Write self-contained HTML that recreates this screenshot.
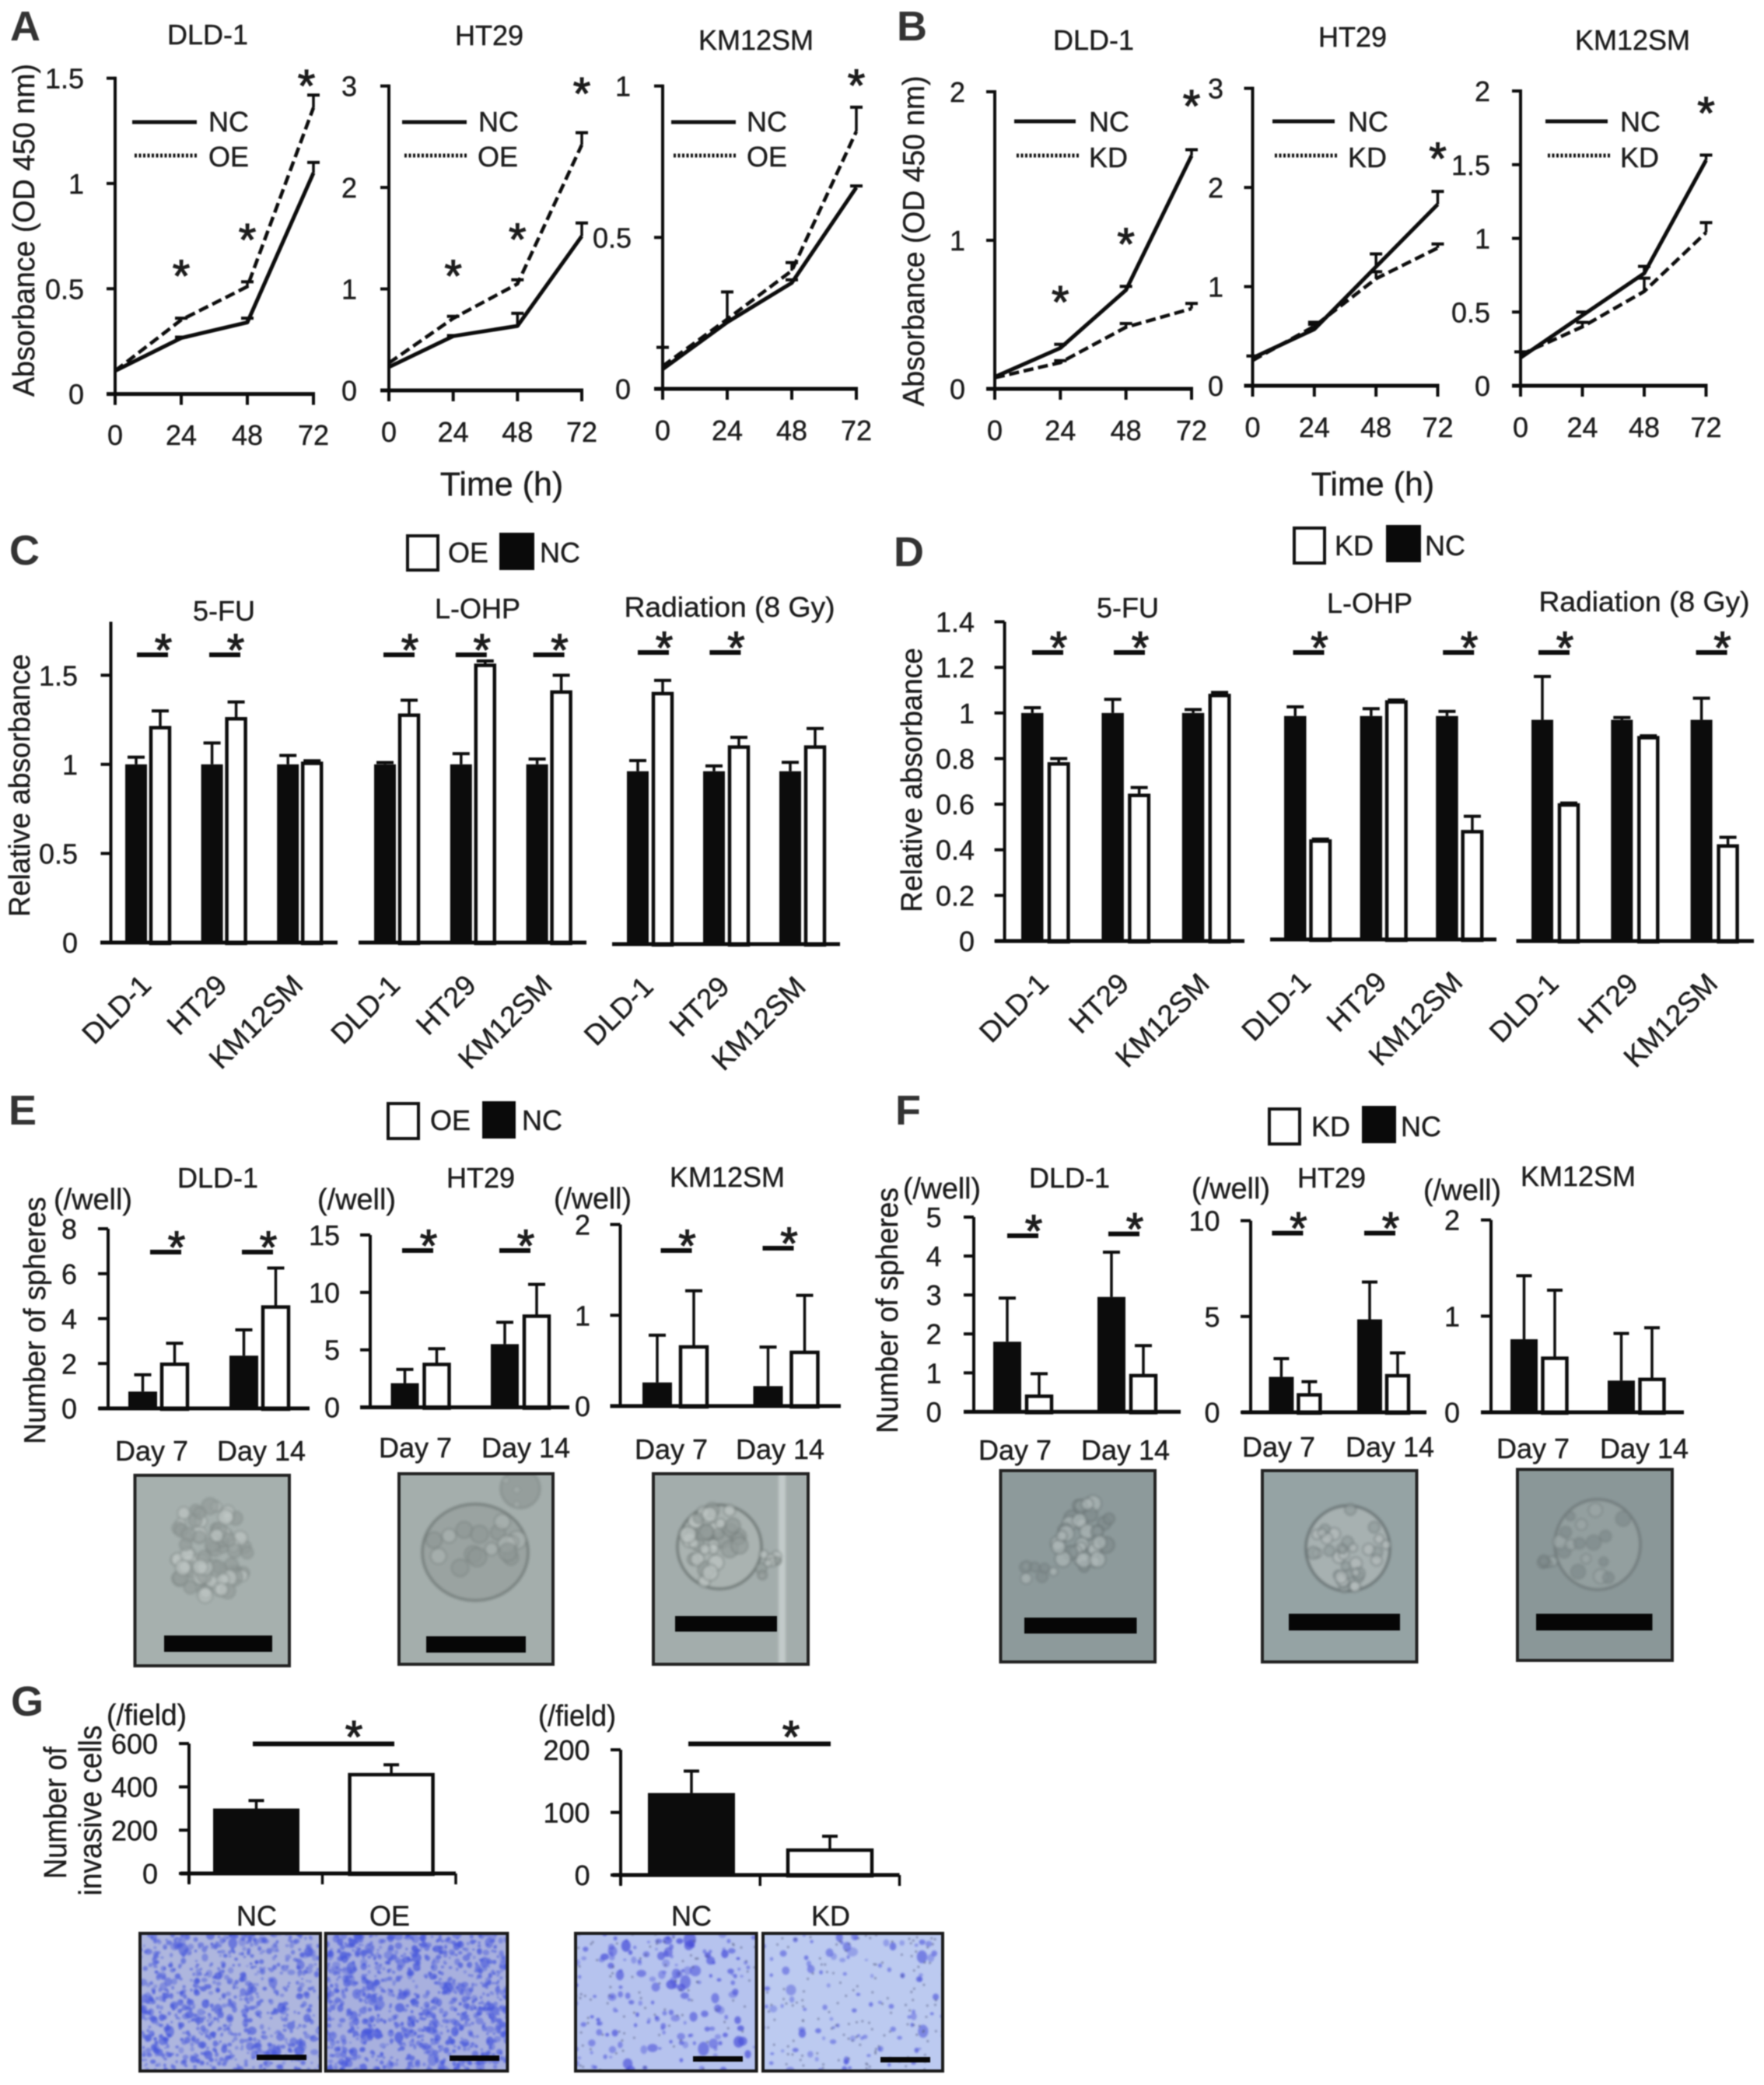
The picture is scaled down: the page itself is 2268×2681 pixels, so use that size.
<!DOCTYPE html>
<html lang="en">
<head>
<meta charset="utf-8">
<title>Cell proliferation, chemoresistance, sphere and invasion assays</title>
<style>
html,body{margin:0;padding:0;background:#fff;}
#figure{display:block;width:2268px;height:2681px;filter:blur(0.7px);}
text{font-family:"Liberation Sans",Arial,sans-serif;font-size:36px;fill:#1c1c1c;stroke:#1c1c1c;stroke-width:0.4px;}
.letter{font-size:54px;font-weight:bold;fill:#333;stroke:none;}
.mid{text-anchor:middle;}
</style>
</head>
<body>
<svg id="figure" xmlns="http://www.w3.org/2000/svg" width="2268" height="2681" viewBox="0 0 2268 2681">
<rect x="0" y="0" width="2268" height="2681" fill="#ffffff"/>

<!-- Panel letters -->
<text class="letter" x="13" y="52">A</text>
<text class="letter" x="1153" y="52">B</text>
<text class="letter" x="12" y="726">C</text>
<text class="letter" x="1149" y="728">D</text>
<text class="letter" x="11" y="1446">E</text>
<text class="letter" x="1151" y="1446">F</text>
<text class="letter" x="14" y="2206">G</text>

<!-- Panel A static text -->
<text class="mid" x="267" y="57">DLD-1</text>
<text class="mid" x="629" y="58">HT29</text>
<text class="mid" x="972" y="64">KM12SM</text>
<text class="mid" x="44" y="296" transform="rotate(-90 44 296)" textLength="428" lengthAdjust="spacingAndGlyphs" style="font-size:39px">Absorbance (OD 450 nm)</text>
<text class="mid" x="645" y="637" style="font-size:43px">Time (h)</text>

<!-- Panel A legends -->
<line x1="170" x2="253" y1="157" y2="157" stroke="#111" stroke-width="5"/>
<text x="268" y="169">NC</text>
<line x1="173" x2="253" y1="200" y2="200" stroke="#111" stroke-width="5" stroke-dasharray="3 2.5"/>
<text x="268" y="214">OE</text>
<line x1="517" x2="600" y1="157" y2="157" stroke="#111" stroke-width="5"/>
<text x="615" y="169">NC</text>
<line x1="520" x2="600" y1="200" y2="200" stroke="#111" stroke-width="5" stroke-dasharray="3 2.5"/>
<text x="614" y="214">OE</text>
<line x1="863" x2="946" y1="157" y2="157" stroke="#111" stroke-width="5"/>
<text x="960" y="169">NC</text>
<line x1="866" x2="946" y1="200" y2="200" stroke="#111" stroke-width="5" stroke-dasharray="3 2.5"/>
<text x="960" y="214">OE</text>

<!-- Panel B static text -->
<text class="mid" x="1406" y="64">DLD-1</text>
<text class="mid" x="1739" y="60">HT29</text>
<text class="mid" x="2099" y="64">KM12SM</text>
<text class="mid" x="1188" y="310" transform="rotate(-90 1188 310)" textLength="425" lengthAdjust="spacingAndGlyphs" style="font-size:39px">Absorbance (OD 450 nm)</text>
<text class="mid" x="1765" y="637" style="font-size:43px">Time (h)</text>

<!-- Panel B legends -->
<line x1="1304" x2="1383" y1="156" y2="156" stroke="#111" stroke-width="5"/>
<text x="1400" y="169">NC</text>
<line x1="1307" x2="1387" y1="200" y2="200" stroke="#111" stroke-width="5" stroke-dasharray="3 2.5"/>
<text x="1400" y="215">KD</text>
<line x1="1636" x2="1716" y1="156" y2="156" stroke="#111" stroke-width="5"/>
<text x="1733" y="169">NC</text>
<line x1="1639" x2="1719" y1="200" y2="200" stroke="#111" stroke-width="5" stroke-dasharray="3 2.5"/>
<text x="1733" y="215">KD</text>
<line x1="1987" x2="2067" y1="156" y2="156" stroke="#111" stroke-width="5"/>
<text x="2083" y="169">NC</text>
<line x1="1990" x2="2070" y1="200" y2="200" stroke="#111" stroke-width="5" stroke-dasharray="3 2.5"/>
<text x="2083" y="215">KD</text>

<!-- Panel C static -->
<rect x="524" y="689" width="39" height="44" fill="#fff" stroke="#111" stroke-width="4"/>
<text x="576" y="723">OE</text>
<rect x="642" y="685" width="45" height="48" fill="#0a0a0a"/>
<text x="694" y="723">NC</text>
<text class="mid" x="288" y="798">5-FU</text>
<text class="mid" x="614" y="795">L-OHP</text>
<text class="mid" x="938" y="793" textLength="271" lengthAdjust="spacingAndGlyphs">Radiation (8 Gy)</text>
<text class="mid" x="38" y="1010" transform="rotate(-90 38 1010)" textLength="338" lengthAdjust="spacingAndGlyphs" style="font-size:38px">Relative absorbance</text>

<!-- Panel D static -->
<rect x="1664" y="679" width="39" height="45" fill="#fff" stroke="#111" stroke-width="4"/>
<text x="1716" y="714">KD</text>
<rect x="1782" y="675" width="45" height="48" fill="#0a0a0a"/>
<text x="1832" y="714">NC</text>
<text class="mid" x="1450" y="794">5-FU</text>
<text class="mid" x="1761" y="788">L-OHP</text>
<text class="mid" x="2114" y="786" textLength="271" lengthAdjust="spacingAndGlyphs">Radiation (8 Gy)</text>
<text class="mid" x="1185" y="1003" transform="rotate(-90 1185 1003)" textLength="340" lengthAdjust="spacingAndGlyphs" style="font-size:38px">Relative absorbance</text>

<!-- Panel E static -->
<rect x="499" y="1419" width="39" height="45" fill="#fff" stroke="#111" stroke-width="4"/>
<text x="553" y="1453">OE</text>
<rect x="620" y="1416" width="43" height="48" fill="#0a0a0a"/>
<text x="671" y="1453">NC</text>
<text class="mid" x="280" y="1527">DLD-1</text>
<text class="mid" x="618" y="1527">HT29</text>
<text class="mid" x="935" y="1526">KM12SM</text>
<text class="mid" x="58" y="1698" transform="rotate(-90 58 1698)" textLength="318" lengthAdjust="spacingAndGlyphs" style="font-size:39px">Number of spheres</text>
<text x="69" y="1555" textLength="101" lengthAdjust="spacingAndGlyphs" style="font-size:38px">(/well)</text>
<text x="408" y="1555" textLength="101" lengthAdjust="spacingAndGlyphs" style="font-size:38px">(/well)</text>
<text x="712" y="1554" textLength="100" lengthAdjust="spacingAndGlyphs" style="font-size:38px">(/well)</text>
<text class="mid" x="195" y="1878">Day 7</text>
<text class="mid" x="336" y="1878">Day 14</text>
<text class="mid" x="534" y="1874">Day 7</text>
<text class="mid" x="676" y="1874">Day 14</text>
<text class="mid" x="863" y="1876">Day 7</text>
<text class="mid" x="1003" y="1876">Day 14</text>

<!-- Panel F static -->
<rect x="1632" y="1426" width="39" height="45" fill="#fff" stroke="#111" stroke-width="4"/>
<text x="1686" y="1461">KD</text>
<rect x="1751" y="1422" width="44" height="48" fill="#0a0a0a"/>
<text x="1801" y="1461">NC</text>
<text class="mid" x="1375" y="1527">DLD-1</text>
<text class="mid" x="1712" y="1527">HT29</text>
<text class="mid" x="2029" y="1525">KM12SM</text>
<text class="mid" x="1154" y="1685" transform="rotate(-90 1154 1685)" textLength="316" lengthAdjust="spacingAndGlyphs" style="font-size:39px">Number of spheres</text>
<text x="1161" y="1541" textLength="100" lengthAdjust="spacingAndGlyphs" style="font-size:38px">(/well)</text>
<text x="1532" y="1541" textLength="101" lengthAdjust="spacingAndGlyphs" style="font-size:38px">(/well)</text>
<text x="1830" y="1543" textLength="100" lengthAdjust="spacingAndGlyphs" style="font-size:38px">(/well)</text>
<text class="mid" x="1305" y="1877">Day 7</text>
<text class="mid" x="1447" y="1877">Day 14</text>
<text class="mid" x="1644" y="1873">Day 7</text>
<text class="mid" x="1787" y="1873">Day 14</text>
<text class="mid" x="1971" y="1875">Day 7</text>
<text class="mid" x="2114" y="1875">Day 14</text>

<!-- Panel G static -->
<text x="137" y="2218" textLength="103" lengthAdjust="spacingAndGlyphs" style="font-size:38px">(/field)</text>
<text x="692" y="2219" textLength="100" lengthAdjust="spacingAndGlyphs" style="font-size:38px">(/field)</text>
<text class="mid" x="85" y="2331" transform="rotate(-90 85 2331)" textLength="170" lengthAdjust="spacingAndGlyphs" style="font-size:41px">Number of</text>
<text class="mid" x="130" y="2328" transform="rotate(-90 130 2328)" textLength="219" lengthAdjust="spacingAndGlyphs" style="font-size:41px">invasive cells</text>
<text class="mid" x="330" y="2476">NC</text>
<text class="mid" x="501" y="2476">OE</text>
<text class="mid" x="889" y="2476">NC</text>
<text class="mid" x="1068" y="2476">KD</text>

<g id="marks"></g>
</svg>

<script>
// ---- Shared categories ----
const hours = [0, 24, 48, 72];
const cellLines = ['DLD-1', 'HT29', 'KM12SM'];

// ---- Panel A: growth curves, NC vs OE ----
const aDldTicks = ['0', '0.5', '1', '1.5'];
const aDldNc = [0.11, 0.266, 0.34, 1.05];
const aDldNcTop = [0.11, 0.27, 0.36, 1.10];
const aDldAlt = [0.11, 0.352, 0.51, 1.36];
const aDldAltTop = [0.11, 0.36, 0.533, 1.42];
const aHtTicks = ['0', '1', '2', '3'];
const aHtNc = [0.23, 0.535, 0.635, 1.52];
const aHtNcTop = [0.23, 0.54, 0.76, 1.65];
const aHtAlt = [0.27, 0.71, 1.05, 2.42];
const aHtAltTop = [0.27, 0.73, 1.09, 2.54];
const aKmTicks = ['0', '0.5', '1'];
const aKmNc = [0.065, 0.22, 0.35, 0.665];
const aKmNcTop = [0.065, 0.22, 0.36, 0.67];
const aKmAlt = [0.075, 0.23, 0.39, 0.85];
const aKmAltTop = [0.137, 0.32, 0.417, 0.93];

// ---- Panel B: growth curves, NC vs KD ----
const bDldTicks = ['0', '1', '2'];
const bDldNc = [0.08, 0.275, 0.665, 1.57];
const bDldNcTop = [0.08, 0.30, 0.69, 1.61];
const bDldAlt = [0.075, 0.177, 0.415, 0.54];
const bDldAltTop = [0.075, 0.19, 0.44, 0.575];
const bHtTicks = ['0', '1', '2', '3'];
const bHtNc = [0.28, 0.57, 1.2, 1.83];
const bHtNcTop = [0.28, 0.64, 1.33, 1.96];
const bHtAlt = [0.255, 0.60, 1.08, 1.39];
const bHtAltTop = [0.30, 0.62, 1.15, 1.43];
const bKmTicks = ['0', '0.5', '1', '1.5', '2'];
const bKmNc = [0.19, 0.477, 0.763, 1.53];
const bKmNcTop = [0.19, 0.50, 0.81, 1.565];
const bKmAlt = [0.21, 0.40, 0.64, 1.04];
const bKmAltTop = [0.23, 0.43, 0.73, 1.107];

// ---- Panel C: relative absorbance, NC vs OE ----
const cTicks = ['0', '0.5', '1', '1.5'];
const cFuNc = [1, 1, 1];
const cFuNcTop = [1.04, 1.12, 1.05];
const cFuAlt = [1.21, 1.26, 1.01];
const cFuAltTop = [1.30, 1.35, 1.02];
const cOxNc = [1, 1, 1];
const cOxNcTop = [1.01, 1.06, 1.03];
const cOxAlt = [1.28, 1.56, 1.41];
const cOxAltTop = [1.36, 1.58, 1.50];
const cRadNc = [0.97, 0.97, 0.97];
const cRadNcTop = [1.03, 1.00, 1.02];
const cRadAlt = [1.41, 1.11, 1.11];
const cRadAltTop = [1.48, 1.16, 1.21];

// ---- Panel D: relative absorbance, NC vs KD ----
const dTicks = ['0', '0.2', '0.4', '0.6', '0.8', '1', '1.2', '1.4'];
const dFuNc = [1, 1, 1];
const dFuNcTop = [1.023, 1.06, 1.015];
const dFuAlt = [0.78, 0.642, 1.08];
const dFuAltTop = [0.80, 0.673, 1.09];
const dOxNc = [0.98, 0.98, 0.98];
const dOxNcTop = [1.02, 1.012, 1.0];
const dOxAlt = [0.435, 1.045, 0.476];
const dOxAltTop = [0.44, 1.05, 0.54];
const dRadNc = [0.97, 0.97, 0.97];
const dRadNcTop = [1.16, 0.98, 1.065];
const dRadAlt = [0.60, 0.895, 0.42];
const dRadAltTop = [0.605, 0.90, 0.455];

// ---- Panel E: spheres, NC vs OE (day 7, day 14) ----
const eDldTicks = ['0', '2', '4', '6', '8'];
const eDldNc = [0.75, 2.35];
const eDldNcTop = [1.5, 3.5];
const eDldAlt = [2.0, 4.55];
const eDldAltTop = [2.9, 6.25];
const eHtTicks = ['0', '5', '10', '15'];
const eHtNc = [2.1, 5.5];
const eHtNcTop = [3.3, 7.4];
const eHtAlt = [3.8, 8.0];
const eHtAltTop = [5.1, 10.7];
const eKmTicks = ['0', '1', '2'];
const eKmNc = [0.26, 0.22];
const eKmNcTop = [0.78, 0.65];
const eKmAlt = [0.66, 0.60];
const eKmAltTop = [1.27, 1.22];

// ---- Panel F: spheres, NC vs KD (day 7, day 14) ----
const fDldTicks = ['0', '1', '2', '3', '4', '5'];
const fDldNc = [1.8, 2.95];
const fDldNcTop = [2.92, 4.1];
const fDldAlt = [0.42, 0.95];
const fDldAltTop = [0.98, 1.7];
const fHtTicks = ['0', '5', '10'];
const fHtNc = [1.85, 4.85];
const fHtNcTop = [2.8, 6.8];
const fHtAlt = [0.95, 1.95];
const fHtAltTop = [1.6, 3.1];
const fKmTicks = ['0', '1', '2'];
const fKmNc = [0.76, 0.33];
const fKmNcTop = [1.42, 0.82];
const fKmAlt = [0.57, 0.35];
const fKmAltTop = [1.27, 0.88];

// ---- Panel G: invasive cells ----
const gLeftTicks = ['0', '200', '400', '600'];
const gLeftNc = [300];
const gLeftNcTop = [337];
const gLeftAlt = [460];
const gLeftAltTop = [502];
const gRightTicks = ['0', '100', '200'];
const gRightNc = [131];
const gRightNcTop = [166];
const gRightAlt = [41];
const gRightAltTop = [62];

const root = document.getElementById('marks');
const NS = 'http://www.w3.org/2000/svg';
const INK = '#0c0c0c';

function shape(tag, attrs, parent) {
  const node = document.createElementNS(NS, tag);
  for (const k in attrs) node.setAttribute(k, attrs[k]);
  parent.appendChild(node);
  return node;
}

function label(str, x, y, anchor, parent) {
  const node = shape('text', {x: x, y: y, 'text-anchor': anchor}, parent);
  node.textContent = str;
  return node;
}

function star(x, cy, parent) {
  const node = shape('text', {x: x, y: cy + 30, 'text-anchor': 'middle', style: 'font-size:58px;stroke-width:1.2px'}, parent);
  node.textContent = '*';
  
  
}

function yTickLabels(c, g, sy) {
  c.ticks.forEach(function (t) {
    const v = parseFloat(t);
    const tick = shape('line', {x1: c.axisX - c.tickLen, x2: c.axisX, y1: sy(v), y2: sy(v), stroke: INK, 'stroke-width': 4}, g);
    
    
    const right = (c.intRight && t.indexOf('.') < 0) ? c.intRight : c.tickRight;
    const txt = label(t, right, sy(v) + 13, 'end', g);
    
    
  });
}

function errorBar(x, yFrom, yTo, cap, g) {
  const stem = shape('line', {x1: x, x2: x, y1: yFrom, y2: yTo, stroke: INK, 'stroke-width': 3.5}, g);
  
  
  const capLine = shape('line', {x1: x - cap, x2: x + cap, y1: yTo, y2: yTo, stroke: INK, 'stroke-width': 4}, g);
  
  
}

function drawLineChart(c) {
  const g = shape('g', {}, root);
  
  
  const last = hours[hours.length - 1];
  const sx = function (h) { return c.x0 + (h / last) * (c.x1 - c.x0); };
  const sy = function (v) { return c.y0 - (v / c.max) * (c.y0 - c.yTop); };
  c.axisX = c.x0;
  c.tickLen = 11;

  const yAxis = shape('line', {x1: c.x0, x2: c.x0, y1: c.yTop - 2, y2: c.y0 + 14, stroke: INK, 'stroke-width': 4}, g);
  
  
  const xAxis = shape('line', {x1: c.x0 - 11, x2: c.x1 + 2, y1: c.y0, y2: c.y0, stroke: INK, 'stroke-width': 5}, g);
  
  
  yTickLabels(c, g, sy);

  hours.forEach(function (h) {
    const tick = shape('line', {x1: sx(h), x2: sx(h), y1: c.y0, y2: c.y0 + 14, stroke: INK, 'stroke-width': 4}, g);
    
    
    const txt = label(String(h), sx(h), c.labelY, 'middle', g);
    
    
  });

  hours.forEach(function (h, i) {
    if (c.ncTop[i] > c.nc[i]) errorBar(sx(h), sy(c.nc[i]), sy(c.ncTop[i]), 8, g);
    if (c.altTop[i] > c.alt[i]) errorBar(sx(h), sy(c.alt[i]), sy(c.altTop[i]), 8, g);
  });

  const ncPts = hours.map(function (h, i) { return sx(h) + ',' + sy(c.nc[i]); }).join(' ');
  const ncLine = shape('polyline', {points: ncPts, fill: 'none', stroke: INK, 'stroke-width': 5, 'stroke-linejoin': 'round'}, g);
  
  
  const altPts = hours.map(function (h, i) { return sx(h) + ',' + sy(c.alt[i]); }).join(' ');
  const altLine = shape('polyline', {points: altPts, fill: 'none', stroke: INK, 'stroke-width': 4.5, 'stroke-dasharray': '13 6'}, g);
  
  

  c.stars.forEach(function (s) {
    const idx = s[0];
    const top = Math.max(c.ncTop[idx], c.altTop[idx]);
    star(sx(hours[idx]) + (s[2] || 0), sy(top) - s[1], g);
  });
}

function drawBarChart(c) {
  const g = shape('g', {}, root);
  
  
  const sy = function (v) { return c.y0 - (v / c.max) * (c.y0 - c.yTop); };

  c.nc.forEach(function (v, i) {
    const left = c.groupLeft + i * c.groupStep;
    const blackMid = left + c.barW / 2;
    const whiteMid = left + c.gap + c.barW / 2;
    errorBar(blackMid, sy(v), sy(c.ncTop[i]), c.cap, g);
    errorBar(whiteMid, sy(c.alt[i]), sy(c.altTop[i]), c.cap, g);
    const black = shape('rect', {x: left, y: sy(v), width: c.barW, height: c.y0 - sy(v), fill: INK}, g);
    
    
    const white = shape('rect', {x: left + c.gap + 2, y: sy(c.alt[i]) + 1, width: c.barW - 4, height: c.y0 - sy(c.alt[i]), fill: '#fff', stroke: INK, 'stroke-width': 4.5}, g);
    
    
    if (c.rotated) {
      const groupMid = left + (c.gap + c.barW) / 2;
      const ax = groupMid + 6;
      const ay = c.y0 + 57;
      const txt = shape('text', {x: ax, y: ay, 'text-anchor': 'end', style: 'font-size:37px', transform: 'rotate(-45 ' + ax + ' ' + ay + ')'}, g);
      txt.textContent = c.rotated[i];
      
      
    }
  });

  const xAxis = shape('line', {x1: c.axisLeft, x2: c.axisRight, y1: c.y0, y2: c.y0, stroke: INK, 'stroke-width': 5}, g);
  
  

  if (c.ticks) {
    c.tickLen = 13;
    const yAxis = shape('line', {x1: c.axisX, x2: c.axisX, y1: c.yTop, y2: c.y0 + (c.axisBelow || 0), stroke: INK, 'stroke-width': 4}, g);
    
    
    yTickLabels(c, g, sy);
  }
  if (c.bottomTicks) {
    [0, 0.5, 1].forEach(function (f) {
      const x = c.axisX + f * (c.axisRight - c.axisX);
      const tick = shape('line', {x1: x, x2: x, y1: c.y0, y2: c.y0 + 14, stroke: INK, 'stroke-width': 3.5}, g);
      
      
    });
  }
  (c.sig || []).forEach(function (s) {
    const left = c.groupLeft + s[0] * c.groupStep + s[1];
    const w = s[3] || 40;
    const bar = shape('line', {x1: left, x2: left + w, y1: s[2], y2: s[2], stroke: INK, 'stroke-width': 6}, g);
    
    
    star(left + w - (s[4] || 6), s[2] - (s[5] || 16), g);
  });
}

// ---- Microscopy image placeholders (illustrative texture, not chart data) ----
let seed = 12345;
function rnd() {
  seed = (seed * 1664525 + 1013904223) % 4294967296;
  return seed / 4294967296;
}
let clipCount = 0;

function frame(name, x, y, w, h, bg, edge) {
  clipCount += 1;
  const id = 'micro-clip-' + clipCount;
  const clip = shape('clipPath', {id: id}, root);
  shape('rect', {x: x, y: y, width: w, height: h}, clip);
  const g = shape('g', {'clip-path': 'url(#' + id + ')'}, root);
  
  
  const base = shape('rect', {x: x, y: y, width: w, height: h, fill: bg}, g);
  
  
  const border = shape('rect', {x: x, y: y, width: w, height: h, fill: 'none', stroke: edge, 'stroke-width': 4}, root);
  
  
  return g;
}

function spheroid(g, cx, cy, rx, ry, count, r, fill, ringColor, body, lightCell, darkCell) {
  if (body) {
    const outer = shape('ellipse', {cx: cx, cy: cy, rx: rx, ry: ry, fill: fill, stroke: ringColor, 'stroke-width': 3}, g);
    
    
  }
  for (let i = 0; i < count; i++) {
    const a = rnd() * Math.PI * 2;
    const d = Math.sqrt(rnd()) * 0.92;
    const px = cx + Math.cos(a) * d * rx;
    const py = cy + Math.sin(a) * d * ry;
    const rr = r * (0.7 + rnd() * 0.5);
    const cell = shape('circle', {cx: px, cy: py, r: rr, fill: rnd() > 0.5 ? lightCell : darkCell, stroke: ringColor, 'stroke-width': 1.4, opacity: 0.7}, g);
    
    
  }
}

function scaleBar(x, y, w, h, parent) {
  const bar = shape('rect', {x: x, y: y, width: w, height: h, fill: '#060606'}, parent);
  
  
}

function stained(name, x, y, w, h, bg, count, minR, maxR, color, specks, barX, barY) {
  const g = frame(name, x, y, w, h, bg, '#1a1a1a');
  g.style.filter = 'blur(1px)';
  for (let i = 0; i < count; i++) {
    const r = minR + rnd() * rnd() * (maxR - minR);
    const cell = shape('ellipse', {cx: x + rnd() * w, cy: y + rnd() * h, rx: r, ry: r * (0.7 + rnd() * 0.6), fill: color, opacity: 0.35 + rnd() * 0.4}, g);
    
    
  }
  for (let i = 0; i < specks; i++) {
    const dot = shape('circle', {cx: x + rnd() * w, cy: y + rnd() * h, r: 1.3, fill: '#50567a', opacity: 0.7}, g);
    
    
  }
  scaleBar(barX, barY, 64, 7, root);
}

// ---- Draw: Panel A ----
drawLineChart({name: 'chart-a-dld1', altName: 'line-oe', x0: 148, x1: 403, y0: 506.6, yTop: 100.6, max: 1.5, ticks: aDldTicks, tickRight: 108, labelY: 572, nc: aDldNc, ncTop: aDldNcTop, alt: aDldAlt, altTop: aDldAltTop, stars: [[1, 64], [2, 64], [3, 22, -9]]});
drawLineChart({name: 'chart-a-ht29', altName: 'line-oe', x0: 500, x1: 748, y0: 502, yTop: 110.6, max: 3, ticks: aHtTicks, tickRight: 459, labelY: 568, nc: aHtNc, ncTop: aHtNcTop, alt: aHtAlt, altTop: aHtAltTop, stars: [[1, 62], [2, 62], [3, 60]]});
drawLineChart({name: 'chart-a-km12sm', altName: 'line-oe', x0: 852, x1: 1101, y0: 500, yTop: 110.6, max: 1, ticks: aKmTicks, tickRight: 812, intRight: 811, labelY: 566, nc: aKmNc, ncTop: aKmNcTop, alt: aKmAlt, altTop: aKmAltTop, stars: [[3, 38]]});

// ---- Draw: Panel B ----
drawLineChart({name: 'chart-b-dld1', altName: 'line-kd', x0: 1279, x1: 1532, y0: 500, yTop: 118, max: 2, ticks: bDldTicks, tickRight: 1241, labelY: 566, nc: bDldNc, ncTop: bDldNcTop, alt: bDldAlt, altTop: bDldAltTop, stars: [[1, 64], [2, 64], [3, 66]]});
drawLineChart({name: 'chart-b-ht29', altName: 'line-kd', x0: 1610.5, x1: 1848.5, y0: 496, yTop: 113.6, max: 3, ticks: bHtTicks, tickRight: 1573, labelY: 562, nc: bHtNc, ncTop: bHtNcTop, alt: bHtAlt, altTop: bHtAltTop, stars: [[3, 52]]});
drawLineChart({name: 'chart-b-km12sm', altName: 'line-kd', x0: 1955, x1: 2193.5, y0: 496, yTop: 117, max: 2, ticks: bKmTicks, tickRight: 1916, labelY: 562, nc: bKmNc, ncTop: bKmNcTop, alt: bKmAlt, altTop: bKmAltTop, stars: [[3, 64]]});

// ---- Draw: Panel C ----
drawBarChart({name: 'chart-c-5fu', altBar: 'bar-oe', axisLeft: 129, axisRight: 434, axisX: 142.5, y0: 1212, yTop: 799.5, max: 1.8, ticks: cTicks, tickRight: 100, groupLeft: 161, groupStep: 97.6, barW: 28, gap: 31, cap: 11, nc: cFuNc, ncTop: cFuNcTop, alt: cFuAlt, altTop: cFuAltTop, rotated: cellLines, sig: [[0, 15, 842], [1, 10.4, 842]]});
drawBarChart({name: 'chart-c-lohp', altBar: 'bar-oe', axisLeft: 461, axisRight: 754, y0: 1212, yTop: 799.5, max: 1.8, groupLeft: 481, groupStep: 97.8, barW: 28, gap: 31, cap: 11, nc: cOxNc, ncTop: cOxNcTop, alt: cOxAlt, altTop: cOxAltTop, rotated: cellLines, sig: [[0, 12, 842], [1, 7, 842], [2, 9, 842]]});
drawBarChart({name: 'chart-c-radiation', altBar: 'bar-oe', axisLeft: 787, axisRight: 1080, y0: 1214, yTop: 801.5, max: 1.8, groupLeft: 806, groupStep: 98, barW: 28, gap: 32, cap: 11, nc: cRadNc, ncTop: cRadNcTop, alt: cRadAlt, altTop: cRadAltTop, rotated: cellLines, sig: [[0, 14, 839], [1, 8.4, 839]]});

// ---- Draw: Panel D ----
drawBarChart({name: 'chart-d-5fu', altBar: 'bar-kd', axisLeft: 1279, axisRight: 1600, axisX: 1291.6, y0: 1210, yTop: 799.5, max: 1.4, ticks: dTicks, tickRight: 1253, groupLeft: 1313, groupStep: 103.4, barW: 28.5, gap: 34, cap: 11, nc: dFuNc, ncTop: dFuNcTop, alt: dFuAlt, altTop: dFuAltTop, rotated: cellLines, sig: [[0, 14, 839], [1, 15.6, 839]]});
drawBarChart({name: 'chart-d-lohp', altBar: 'bar-kd', axisLeft: 1633, axisRight: 1924, y0: 1208, yTop: 797.5, max: 1.4, groupLeft: 1651, groupStep: 97.6, barW: 28.5, gap: 32.5, cap: 11, nc: dOxNc, ncTop: dOxNcTop, alt: dOxAlt, altTop: dOxAltTop, rotated: cellLines, sig: [[0, 11.5, 839], [2, 9, 839]]});
drawBarChart({name: 'chart-d-radiation', altBar: 'bar-kd', axisLeft: 1949.5, axisRight: 2255, y0: 1210, yTop: 799.5, max: 1.4, groupLeft: 1969, groupStep: 102.3, barW: 28, gap: 34, cap: 11, nc: dRadNc, ncTop: dRadNcTop, alt: dRadAlt, altTop: dRadAltTop, rotated: cellLines, sig: [[0, 9, 839], [2, 7, 839]]});

// ---- Draw: Panel E ----
drawBarChart({name: 'chart-e-dld1', altBar: 'bar-oe', axisLeft: 126.5, axisRight: 398, axisX: 139, y0: 1811, yTop: 1580, max: 8, ticks: eDldTicks, tickRight: 99, groupLeft: 165, groupStep: 130, barW: 37, gap: 41, cap: 11, nc: eDldNc, ncTop: eDldNcTop, alt: eDldAlt, altTop: eDldAltTop, sig: [[0, 28, 1610], [1, 16, 1610]]});
drawBarChart({name: 'chart-e-ht29', altBar: 'bar-oe', axisLeft: 463, axisRight: 732, axisX: 476, y0: 1809.6, yTop: 1588, max: 15, ticks: eHtTicks, tickRight: 437, groupLeft: 502.5, groupStep: 128.5, barW: 36, gap: 41, cap: 11, nc: eHtNc, ncTop: eHtNcTop, alt: eHtAlt, altTop: eHtAltTop, sig: [[0, 14.5, 1608], [1, 11, 1608]]});
drawBarChart({name: 'chart-e-km12sm', altBar: 'bar-oe', axisLeft: 784.5, axisRight: 1081, axisX: 797.5, y0: 1808, yTop: 1574.5, max: 2, ticks: eKmTicks, tickRight: 759, groupLeft: 826, groupStep: 142.5, barW: 38, gap: 47, cap: 11, nc: eKmNc, ncTop: eKmNcTop, alt: eKmAlt, altTop: eKmAltTop, sig: [[0, 23.5, 1608], [1, 12, 1605]]});

// ---- Draw: Panel F ----
drawBarChart({name: 'chart-f-dld1', altBar: 'bar-kd', axisLeft: 1239, axisRight: 1518, axisX: 1252, y0: 1815.4, yTop: 1565, max: 5, ticks: fDldTicks, tickRight: 1210.6, groupLeft: 1277, groupStep: 134, barW: 36, gap: 41, cap: 11, nc: fDldNc, ncTop: fDldNcTop, alt: fDldAlt, altTop: fDldAltTop, sig: [[0, 18, 1589], [1, 14, 1586.6]]});
drawBarChart({name: 'chart-f-ht29', altBar: 'bar-kd', axisLeft: 1596, axisRight: 1834, axisX: 1608, y0: 1816, yTop: 1569.6, max: 10, ticks: fHtTicks, tickRight: 1568.5, groupLeft: 1631.4, groupStep: 113.6, barW: 32, gap: 36, cap: 10, nc: fHtNc, ncTop: fHtNcTop, alt: fHtAlt, altTop: fHtAltTop, sig: [[0, 4, 1585.6], [1, 9, 1585.6]]});
drawBarChart({name: 'chart-f-km12sm', altBar: 'bar-kd', axisLeft: 1904, axisRight: 2165, axisX: 1917, y0: 1816, yTop: 1568.7, max: 2, ticks: fKmTicks, tickRight: 1877, groupLeft: 1942, groupStep: 125, barW: 35, gap: 39.5, cap: 10, nc: fKmNc, ncTop: fKmNcTop, alt: fKmAlt, altTop: fKmAltTop});

// ---- Draw: Panel G ----
drawBarChart({name: 'chart-g-oe', altBar: 'bar-oe', axisLeft: 232, axisRight: 586, axisX: 243, y0: 2409, yTop: 2242, max: 600, ticks: gLeftTicks, tickRight: 203, axisBelow: 13, groupLeft: 274, groupStep: 0, barW: 111, gap: 173.6, cap: 10, bottomTicks: true, nc: gLeftNc, ncTop: gLeftNcTop, alt: gLeftAlt, altTop: gLeftAltTop, sig: [[0, 51, 2242.4, 182, 52, 19]]});
drawBarChart({name: 'chart-g-kd', altBar: 'bar-kd', axisLeft: 787.5, axisRight: 1156.5, axisX: 798, y0: 2411, yTop: 2250, max: 200, ticks: gRightTicks, tickRight: 758.6, axisBelow: 13, groupLeft: 833, groupStep: 0, barW: 112, gap: 178, cap: 10, bottomTicks: true, nc: gRightNc, ncTop: gRightNcTop, alt: gRightAlt, altTop: gRightAltTop, sig: [[0, 52, 2242.4, 183, 51, 19]]});

// ---- Draw: sphere micrographs ----
(function () {
  const eLight = '#bdc5c3';
  const eDark = '#939c9a';
  const fLight = '#adb7b7';
  const fDark = '#7f8b8c';

  const e1 = frame('sphere-image-e-dld1', 173.5, 1897, 198.5, 245, '#a6b0ae', '#222');
  e1.style.filter = 'blur(1.6px)';
  spheroid(e1, 271, 1991, 58, 70, 80, 9, '#a6b0ae', '#7b8482', false, eLight, eDark);
  scaleBar(211, 2103, 139, 21, root);

  const e2 = frame('sphere-image-e-ht29', 513, 1895, 198, 245, '#a4aeac', '#222');
  e2.style.filter = 'blur(1.6px)';
  spheroid(e2, 669, 1914, 25, 25, 3, 5, '#959e9c', '#8a9391', true, '#a5aeac', '#8f9896');
  spheroid(e2, 611, 1996, 68, 62, 16, 10, '#9aa3a1', '#727b79', true, '#abb3b1', '#8f9896');
  scaleBar(548, 2104, 128, 21, root);

  const e3 = frame('sphere-image-e-km12sm', 840, 1895, 199, 245, '#a3adac', '#222');
  e3.style.filter = 'blur(1.6px)';
  const streak = shape('rect', {x: 1001, y: 1895, width: 9, height: 245, fill: '#c3cbca'}, e3);
  
  
  spheroid(e3, 925, 1989, 54, 54, 34, 9, '#aab3b1', '#6c7573', true, eLight, eDark);
  spheroid(e3, 990, 2015, 16, 22, 10, 6, '#98a19f', '#6c7573', false, eLight, eDark);
  scaleBar(868, 2078, 131, 20, root);

  const f1 = frame('sphere-image-f-dld1', 1286.5, 1891, 198.5, 246, '#8d9a9b', '#222');
  f1.style.filter = 'blur(1.6px)';
  spheroid(f1, 1395, 1975, 42, 48, 34, 9, '#8d9a9b', '#5f696a', false, fLight, fDark);
  spheroid(f1, 1335, 2020, 26, 14, 7, 8, '#8d9a9b', '#6a7475', false, fLight, fDark);
  scaleBar(1317, 2080, 144.5, 20.5, root);

  const f2 = frame('sphere-image-f-ht29', 1623, 1891, 198.5, 246, '#95a3a4', '#222');
  f2.style.filter = 'blur(1.6px)';
  spheroid(f2, 1733, 1991, 54, 55, 34, 7, '#a7b1b1', '#667071', true, '#b4bcbc', '#919c9c');
  scaleBar(1657, 2075, 143, 21.5, root);

  const f3 = frame('sphere-image-f-km12sm', 1951, 1889.5, 199, 245.5, '#8a9798', '#222');
  f3.style.filter = 'blur(1.6px)';
  spheroid(f3, 2054, 1986, 55, 58, 16, 8, '#939f9f', '#6f797a', true, '#9ca7a7', fDark);
  spheroid(f3, 1985, 2006, 14, 16, 5, 6, '#8a9798', '#636d6e', false, '#9ca7a7', fDark);
  scaleBar(1975, 2075, 149.5, 21.5, root);

  stained('invasion-image-nc-oe-control', 180, 2486, 232, 177, '#aeb6de', 800, 1.5, 6.5, '#4757dc', 0, 330, 2642);
  stained('invasion-image-oe', 418.7, 2486, 233.7, 177, '#a8b0de', 1000, 1.5, 6.5, '#4757dc', 0, 578, 2643);
  stained('invasion-image-nc-kd-control', 740, 2486, 232.6, 177, '#b6c3ee', 170, 2, 8.5, '#4a50da', 90, 891, 2644);
  stained('invasion-image-kd', 981, 2486, 231, 177, '#bccaf0', 100, 2, 7.5, '#5058dc', 130, 1132, 2645);
})();
</script>
</body>
</html>
